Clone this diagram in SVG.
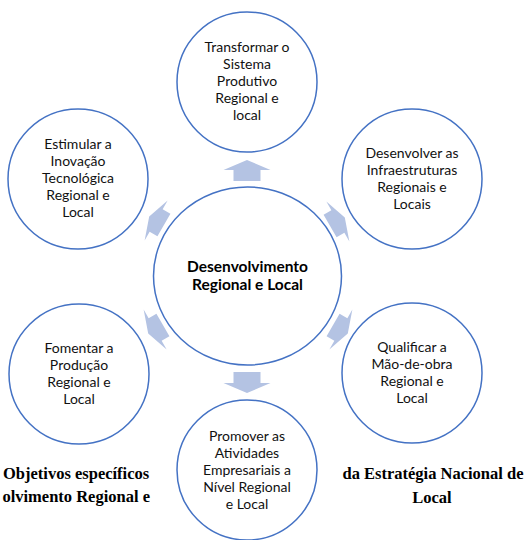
<svg xmlns="http://www.w3.org/2000/svg" width="528" height="540" viewBox="0 0 528 540">
<style>
.node circle, .node ellipse { fill: #ffffff; stroke: #4472C4; stroke-width: 1.5; }
.t { font-family: Lato, "Open Sans", "Liberation Sans", sans-serif; font-size: 14px; fill: #111111; text-anchor: middle; }
.tc { font-family: Lato, "Open Sans", "Liberation Sans", sans-serif; font-size: 15.5px; font-weight: bold; fill: #000000; text-anchor: middle; }
.cap { font-family: "Liberation Serif", "Times New Roman", serif; font-size: 16.5px; font-weight: bold; fill: #000000; }
.arr { fill: #B4C3E3; }
</style>
<defs>
<path id="av" d="M0,-10.5 L23.5,-0.5 L13.5,-0.5 L13.5,10.5 L-13.5,10.5 L-13.5,-0.5 L-23.5,-0.5 Z"/>
<path id="ad" d="M0,-9 L23,-1 L13,-1 L13,8 L-13,8 L-13,-1 L-23,-1 Z"/>
</defs>
<rect width="528" height="540" fill="#ffffff"/>
<g id="caption">
<text class="cap" x="3" y="479">Objetivos específicos</text>
<text class="cap" x="150" y="502" text-anchor="end">olvimento Regional e</text>
<text class="cap" x="433" y="479" text-anchor="middle">da Estratégia Nacional de</text>
<text class="cap" x="432" y="503" text-anchor="middle">Local</text>
</g>
<g id="connectors">
<use href="#av" class="arr" transform="translate(247,170.5)"/>
<use href="#av" class="arr" transform="translate(247,382.5) rotate(180)"/>
<use href="#ad" class="arr" transform="translate(337,222) rotate(60)"/>
<use href="#ad" class="arr" transform="translate(340,329) rotate(120)"/>
<use href="#ad" class="arr" transform="translate(156,329) rotate(-120)"/>
<use href="#ad" class="arr" transform="translate(157,221) rotate(-60)"/>
</g>
<g id="center" class="node">
<ellipse cx="247.5" cy="276" rx="94" ry="89"/>
<text class="tc" x="247.5" y="272">Desenvolvimento</text>
<text class="tc" x="247.5" y="290">Regional e Local</text>
</g>
<g id="n-top" class="node">
<circle cx="247" cy="82" r="70"/>
<text class="t" x="247" y="52">Transformar o</text>
<text class="t" x="247" y="69">Sistema</text>
<text class="t" x="247" y="86">Produtivo</text>
<text class="t" x="247" y="103">Regional e</text>
<text class="t" x="247" y="120">local</text>
</g>
<g id="n-upper-right" class="node">
<circle cx="412" cy="179" r="70"/>
<text class="t" x="412" y="158">Desenvolver as</text>
<text class="t" x="412" y="175">Infraestruturas</text>
<text class="t" x="412" y="192">Regionais e</text>
<text class="t" x="412" y="209">Locais</text>
</g>
<g id="n-lower-right" class="node">
<circle cx="412" cy="373" r="70"/>
<text class="t" x="412" y="352">Qualificar a</text>
<text class="t" x="412" y="369">Mão-de-obra</text>
<text class="t" x="412" y="386">Regional e</text>
<text class="t" x="412" y="403">Local</text>
</g>
<g id="n-bottom" class="node">
<circle cx="247" cy="470" r="70"/>
<text class="t" x="247" y="441">Promover as</text>
<text class="t" x="247" y="458">Atividades</text>
<text class="t" x="247" y="475">Empresariais a</text>
<text class="t" x="247" y="492">Nível Regional</text>
<text class="t" x="247" y="509">e Local</text>
</g>
<g id="n-lower-left" class="node">
<circle cx="79" cy="374" r="70"/>
<text class="t" x="79" y="353">Fomentar a</text>
<text class="t" x="79" y="370">Produção</text>
<text class="t" x="79" y="387">Regional e</text>
<text class="t" x="79" y="404">Local</text>
</g>
<g id="n-upper-left" class="node">
<circle cx="78" cy="179" r="70"/>
<text class="t" x="78" y="149">Estimular a</text>
<text class="t" x="78" y="166">Inovação</text>
<text class="t" x="78" y="183">Tecnológica</text>
<text class="t" x="78" y="200">Regional e</text>
<text class="t" x="78" y="217">Local</text>
</g>
</svg>
